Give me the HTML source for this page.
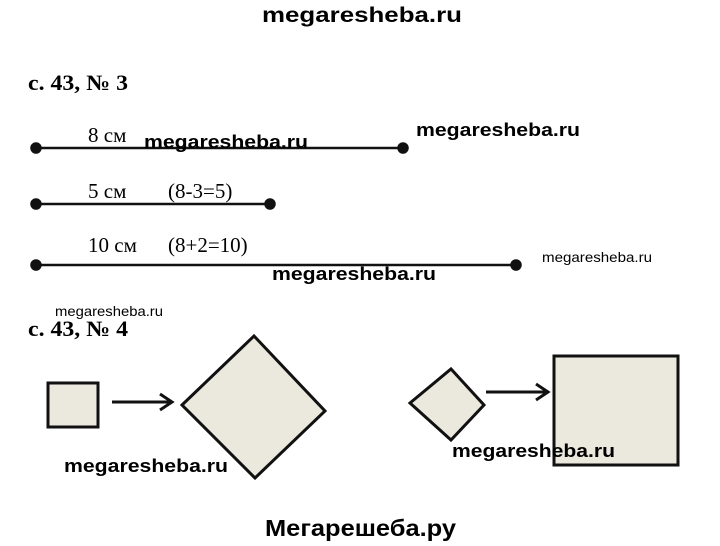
<!DOCTYPE html>
<html><head><meta charset="utf-8"><style>
body{margin:0;background:#fff;width:720px;height:546px;overflow:hidden}
svg{display:block}
.wm{font-family:"Liberation Sans",sans-serif;font-weight:bold}
.t{font-family:"Liberation Serif",serif}
</style></head><body>
<svg width="720" height="546" viewBox="0 0 720 546">
<text x="262" y="22" class="wm" font-size="21" textLength="200" lengthAdjust="spacingAndGlyphs">megaresheba.ru</text>
<text x="28" y="90" class="t" font-size="22" font-weight="bold" textLength="100" lengthAdjust="spacingAndGlyphs">с. 43, № 3</text>
<g stroke="#111" stroke-width="2.5" fill="#111">
<line x1="36" y1="148" x2="403" y2="148"/><circle cx="36" cy="148" r="4.5"/><circle cx="403" cy="148" r="4.5"/>
<line x1="36" y1="204" x2="270" y2="204"/><circle cx="36" cy="204" r="4.5"/><circle cx="270" cy="204" r="4.5"/>
<line x1="36" y1="265" x2="516" y2="265"/><circle cx="36" cy="265" r="4.5"/><circle cx="516" cy="265" r="4.5"/>
</g>
<text x="88" y="142" class="t" font-size="21">8 см</text>
<text x="88" y="198" class="t" font-size="21">5 см</text>
<text x="168" y="198" class="t" font-size="21">(8-3=5)</text>
<text x="88" y="252" class="t" font-size="21">10 см</text>
<text x="168" y="252" class="t" font-size="21">(8+2=10)</text>
<text x="144" y="148" class="wm" font-size="18" textLength="164" lengthAdjust="spacingAndGlyphs">megaresheba.ru</text>
<text x="416" y="136" class="wm" font-size="18" textLength="164" lengthAdjust="spacingAndGlyphs">megaresheba.ru</text>
<text x="542" y="262" font-family="Liberation Sans,sans-serif" font-size="14" textLength="110" lengthAdjust="spacingAndGlyphs">megaresheba.ru</text>
<text x="272" y="280" class="wm" font-size="18" textLength="164" lengthAdjust="spacingAndGlyphs">megaresheba.ru</text>
<text x="55" y="316" font-family="Liberation Sans,sans-serif" font-size="14" textLength="108" lengthAdjust="spacingAndGlyphs">megaresheba.ru</text>
<text x="28" y="336" class="t" font-size="22" font-weight="bold" textLength="100" lengthAdjust="spacingAndGlyphs">с. 43, № 4</text>
<g stroke="#111" stroke-width="3" fill="#ebe8de">
<rect x="48" y="383" width="50" height="44"/>
<polygon points="182,405 254,336 325,411 255,478"/>
<polygon points="410,403 451,369 484,405 451,440"/>
<rect x="554" y="356" width="124" height="109"/>
</g>
<g stroke="#111" stroke-width="3" fill="none">
<line x1="112" y1="402" x2="172" y2="402"/><polyline points="160,394 172,402 160,410"/>
<line x1="486" y1="392" x2="548" y2="392"/><polyline points="536,384 548,392 536,400"/>
</g>
<text x="64" y="472" class="wm" font-size="18" textLength="164" lengthAdjust="spacingAndGlyphs">megaresheba.ru</text>
<text x="452" y="457" class="wm" font-size="18" textLength="163" lengthAdjust="spacingAndGlyphs">megaresheba.ru</text>
<text x="265" y="536" class="wm" font-size="23" textLength="191" lengthAdjust="spacingAndGlyphs">Мегарешеба.ру</text>
</svg>
</body></html>
